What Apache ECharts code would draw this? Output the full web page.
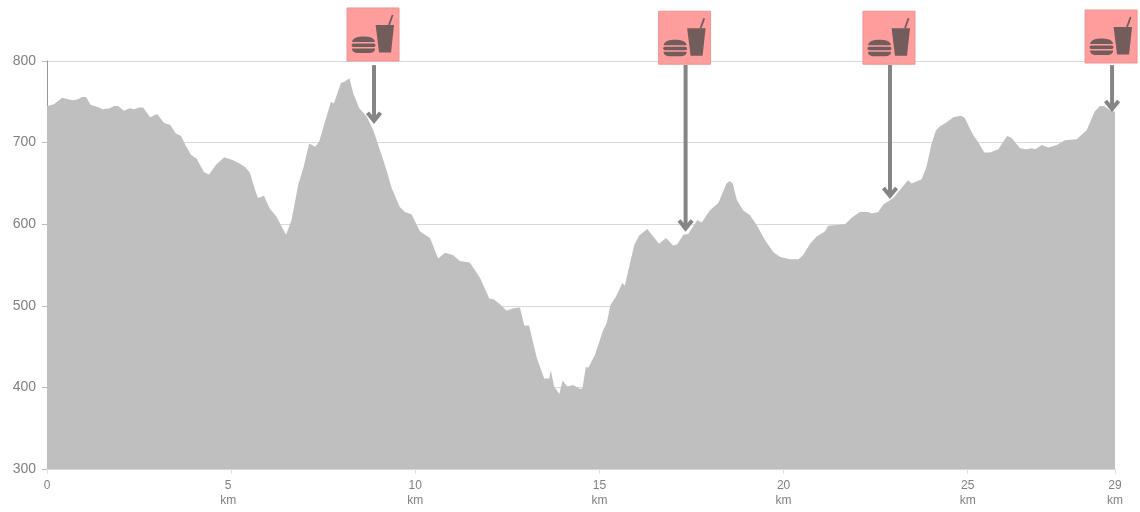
<!DOCTYPE html>
<html>
<head>
<meta charset="utf-8">
<style>html,body{margin:0;padding:0;background:#fff}#c{width:1140px;height:512px}</style>
<script src="https://cdn.jsdelivr.net/npm/echarts@6/dist/echarts.min.js"></script>
</head>
<body>
<div id="c"></div>
<script>
var distanceKm = [0,.19,.41,.57,.71,.84,.95,1.06,1.19,1.36,1.52,1.71,1.82,1.93,2.09,2.25,2.36,2.5,2.61,2.8,2.99,3.18,3.34,3.5,3.64,3.77,3.91,4.07,4.26,4.4,4.59,4.81,5.02,5.24,5.38,5.51,5.65,5.73,5.89,6.05,6.22,6.35,6.49,6.64,6.82,6.96,7.12,7.28,7.39,7.55,7.71,7.79,7.98,8.09,8.21,8.32,8.48,8.68,8.86,9.04,9.22,9.36,9.58,9.72,9.9,10.13,10.4,10.62,10.81,11.03,11.21,11.48,11.76,11.89,12.01,12.12,12.3,12.48,12.66,12.84,12.96,13.09,13.3,13.5,13.64,13.68,13.77,13.91,14,14.13,14.29,14.47,14.54,14.63,14.7,14.88,15.1,15.2,15.3,15.47,15.62,15.69,15.83,15.95,16.08,16.3,16.46,16.62,16.81,17,17.11,17.28,17.41,17.66,17.78,18,18.23,18.45,18.54,18.62,18.73,18.9,19.09,19.27,19.49,19.72,19.9,20.17,20.4,20.53,20.72,20.9,21.12,21.21,21.67,21.85,22.07,22.3,22.39,22.57,22.71,22.98,23.2,23.38,23.48,23.75,23.88,24.02,24.14,24.25,24.43,24.61,24.82,24.92,25.15,25.28,25.45,25.6,25.83,26.07,26.19,26.42,26.6,26.74,26.83,27.01,27.19,27.42,27.64,27.96,28.23,28.45,28.59,28.7,28.91,29];
var elevation = [745,747,755,753,752,753,756,756,746,744,741,742,745,745,739,742,741,743,743,731,735,724,722,711,708,696,685,680,664,661,673,682,679,674,670,663,642,632,635,619,610,599,587,605,648,669,699,695,701,726,750,748,773,775,779,760,742,732,715,691,666,644,621,615,612,591,583,558,565,562,555,553,534,521,509,508,502,494,497,498,476,476,436,411,411,421,401,392,408,401,403,398,399,425,424,440,470,479,501,513,528,525,552,575,586,594,585,576,583,574,575,587,588,605,602,617,626,650,653,650,630,617,611,599,581,566,560,557,557,562,576,585,591,598,600,608,615,615,613,615,624,632,644,654,650,655,670,699,715,720,725,731,733,730,709,701,688,688,692,708,706,693,692,693,692,697,694,697,703,704,715,738,745,745,738,738];
var yTicks = {min:300, max:800, interval:100};
var stopKm = [8.88,17.34,22.89,28.92];
var stopTipElevation = [723,591,631,737.5];
var stopBoxTopElevation = [865,861,861,862.5];
var arrowStartElevation = 795;
var profile = distanceKm.map(function(k,i){return [k,elevation[i]];});
var stops = stopKm.map(function(k,i){return [k,stopTipElevation[i],stopBoxTopElevation[i],arrowStartElevation];});
var chart = echarts.init(document.getElementById('c'),null,{renderer:'canvas'});
var font = '"Liberation Sans", Arial, sans-serif';
function renderStop(params,api){
  var tip = api.coord([api.value(0),api.value(1)]);
  var top = api.coord([api.value(0),api.value(3)]);
  var boxTop = api.coord([api.value(0),api.value(2)]);
  var L = tip[0]-27, T = boxTop[1];
  var ink = '#725c5c';
  var grey = '#858585';
  return {type:'group',children:[
    {type:'rect',shape:{x:L,y:T,width:52,height:53},style:{fill:'#ff9c9c',stroke:'#f09393',lineWidth:1}},
    {type:'path',shape:{pathData:'M5.5 36 C6 30 12 29 16 29 C21 29 26.5 30 27 36 Z',x:L+5,y:T+28.5,width:23,height:5.5,layout:'cover'},style:{fill:ink}},
    {type:'rect',shape:{x:L+4.5,y:T+35.5,width:24,height:3.5,r:1.7},style:{fill:ink}},
    {type:'path',shape:{pathData:'M5 40 L27 40 C27 44 24 45 21 45 L11 45 C8 45 5 44 5 40 Z',x:L+5,y:T+40.5,width:23,height:4.5,layout:'cover'},style:{fill:ink}},
    {type:'polygon',shape:{points:[[L+28.6,T+17],[L+47,T+17],[L+44,T+44.5],[L+32,T+44.5]]},style:{fill:ink}},
    {type:'line',shape:{x1:L+42,y1:T+17,x2:L+45.6,y2:T+7},style:{stroke:ink,lineWidth:1.8}},
    {type:'line',shape:{x1:tip[0],y1:top[1],x2:tip[0],y2:tip[1]-3},style:{stroke:grey,lineWidth:4}},
    {type:'polyline',shape:{points:[[tip[0]-6.5,tip[1]-11],[tip[0],tip[1]-3],[tip[0]+6.5,tip[1]-11]]},style:{stroke:grey,lineWidth:4,fill:null}}
  ]};
}
chart.setOption({
  animation:false,
  backgroundColor:'#fff',
  grid:{left:47,right:25,top:61,bottom:43,containLabel:false},
  xAxis:{type:'value',min:0,max:29,interval:5,
    axisLine:{show:true,lineStyle:{color:'#d8d8d8',width:1}},
    axisTick:{show:true,length:5,lineStyle:{color:'#e0e0e0'}},
    splitLine:{show:false},
    axisLabel:{color:'#808080',fontFamily:font,fontSize:12,margin:9,lineHeight:15,showMinLabel:true,showMaxLabel:true,
      rich:{shift:{color:'#808080',fontFamily:font,fontSize:12,lineHeight:15,padding:[0,6,0,0]}},
      formatter:function(v){return v===0?'0':(v===5?'{shift|5}\n{shift|km}':v+'\nkm');}}},
  yAxis:{type:'value',min:yTicks.min,max:yTicks.max,interval:yTicks.interval,
    axisLine:{show:true,lineStyle:{color:'#999',width:1}},
    axisTick:{show:true,length:5,lineStyle:{color:'#bbb'}},
    splitLine:{show:true,lineStyle:{color:'#d8d8d8',width:1}},
    axisLabel:{color:'#808080',fontFamily:font,fontSize:14,margin:11}},
  series:[
    {type:'line',data:profile,showSymbol:false,symbol:'none',smooth:false,
      lineStyle:{width:0},areaStyle:{color:'#bfbfbf',opacity:1,origin:'start'},z:2},
    {type:'custom',data:stops,renderItem:renderStop,clip:false,z:5,silent:true,
      encode:{x:0,y:1}}
  ]
});
</script>
</body>
</html>
